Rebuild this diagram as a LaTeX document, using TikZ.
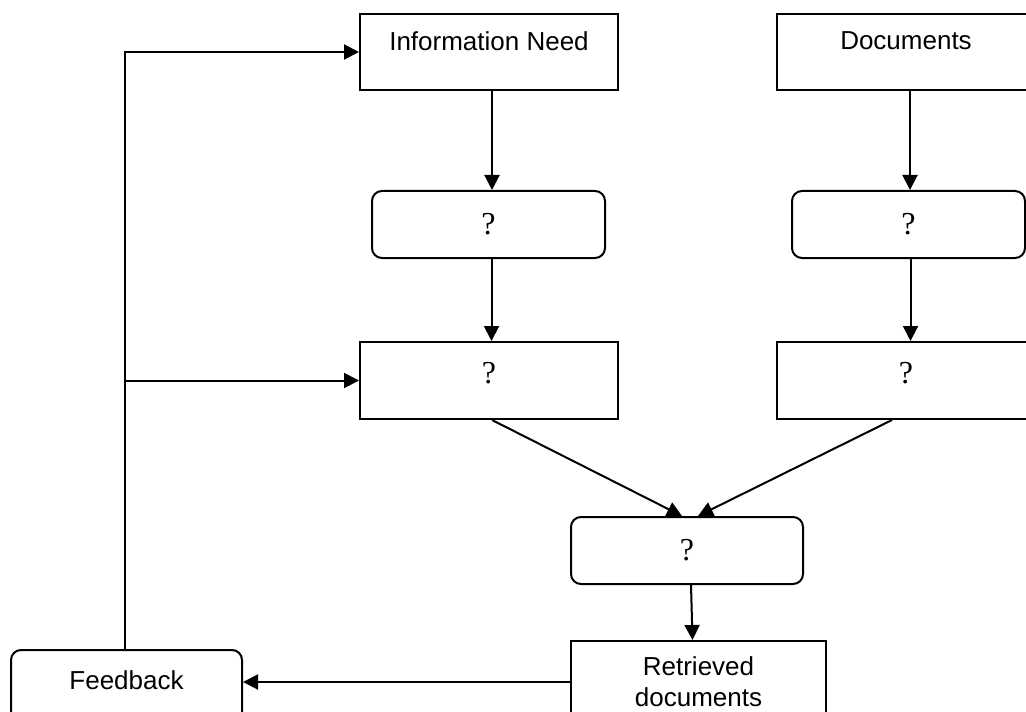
\documentclass[tikz,border=0pt]{standalone}
\usepackage{fontspec}
\setmainfont{Liberation Serif}
\newfontfamily\labelfont{Liberation Sans}
\usetikzlibrary{arrows.meta}
\tikzset{
  base/.style={draw, line width=1pt, inner sep=2pt},
  sqbox/.style={base, minimum width=129pt, minimum height=38pt},
  rndbox/.style={base, rounded corners=5pt, minimum width=116.5pt, minimum height=33.5pt},
  txt/.style={font=\labelfont\fontsize{13}{15.5}\selectfont, align=center},
  qmark/.style={font=\fontsize{16}{18}\selectfont},
  flow/.style={line width=1pt, -{Triangle[length=7.5pt,width=7.5pt]}},
}
\begin{document}
\begin{tikzpicture}[x=0.5pt, y=-0.5pt]
  \useasboundingbox (0,0) rectangle (1026,711);
  %nodes
  \node[sqbox, txt, text depth=11pt] (info) at (489,52) {Information Need};
  \node[sqbox, txt, text depth=11pt] (docs) at (906,52) {Documents};
  \node[rndbox, qmark] (qa) at (488.5,224.5) {?};
  \node[rndbox, qmark] (qb) at (908.5,224.5) {?};
  \node[sqbox, qmark, minimum height=38.5pt, text depth=8pt] (qc) at (489,380.5) {?};
  \node[sqbox, qmark, minimum height=38.5pt, text depth=8pt] (qd) at (906,380.5) {?};
  \node[rndbox, qmark, minimum width=116pt] (qe) at (687,550.5) {?};
  \node[sqbox, txt, minimum width=127.5pt, minimum height=41pt] (ret) at (698.5,682) {Retrieved\\documents};
  \node[rndbox, txt, minimum width=115.5pt, minimum height=40pt, text depth=10pt] (fb) at (126.5,690) {Feedback};
  %edges
  \draw[flow] ([xshift=1.5pt]info.south) -- ([xshift=1.5pt]info.south |- qa.north);
  \draw[flow] ([xshift=1.5pt]qa.south) -- ([xshift=1.5pt]qa.south |- qc.north);
  \draw[flow] ([xshift=2pt]docs.south) -- ([xshift=2pt]docs.south |- qb.north);
  \draw[flow] ([xshift=1pt]qb.south) -- ([xshift=1pt]qb.south |- qd.north);
  \draw[flow] ([xshift=1.5pt]qc.south) -- ([xshift=-2.5pt]qe.north);
  \draw[flow] ([xshift=-7pt]qd.south) -- ([xshift=5.5pt]qe.north);
  \draw[flow] ([xshift=2pt]qe.south) -- ([xshift=-3pt]ret.north);
  \draw[flow] (ret.west) -- (ret.west -| fb.east);
  \draw[flow] ([xshift=-0.75pt]fb.north) |- (info.west);
  \draw[flow] ([xshift=-0.75pt]fb.north |- qc.west) -- (qc.west);
\end{tikzpicture}
\end{document}
